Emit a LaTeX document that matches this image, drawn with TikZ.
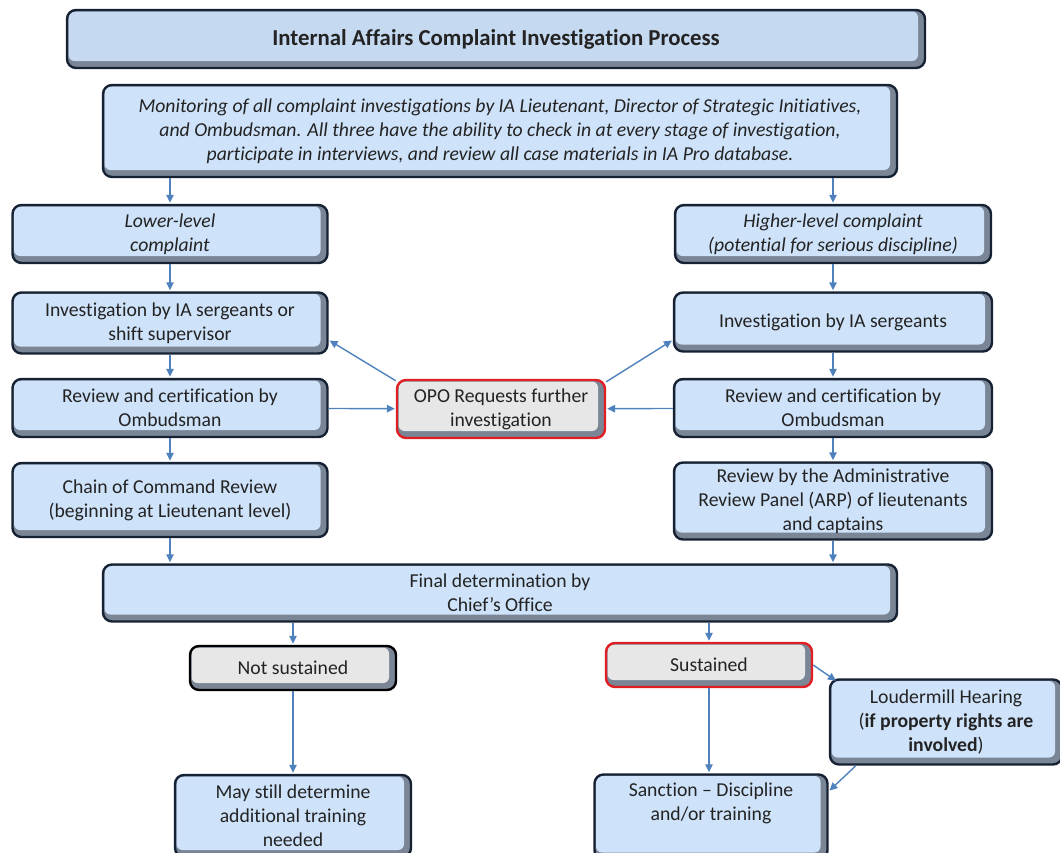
\documentclass[tikz,border=0pt]{standalone}
\usepackage{fontspec}
\setmainfont{Carlito}[Ligatures={NoCommon}]
\usetikzlibrary{arrows.meta,positioning}

\definecolor{boxblue}{RGB}{206,226,249}
\definecolor{titleblue}{RGB}{197,217,241}
\definecolor{boxgrey}{RGB}{231,231,231}
\definecolor{bevelgrey}{RGB}{122,134,150}
\definecolor{navy}{RGB}{22,34,52}
\definecolor{alertred}{RGB}{225,30,35}
\definecolor{linkblue}{RGB}{79,129,189}
\definecolor{textgrey}{RGB}{35,35,35}

\newcommand{\boxfont}{\fontsize{19.7}{24}\selectfont}

\tikzset{
  bevelbox/.style={draw=navy, line width=2.4pt, rounded corners=9pt, fill=bevelgrey,
    text=textgrey, align=center, inner sep=1pt, font=\boxfont,
    path picture={\fill[#1, rounded corners=6pt]
      ([shift={(1.5pt,-1.5pt)}]path picture bounding box.north west) rectangle
      ([shift={(-7pt,7pt)}]path picture bounding box.south east);}},
  bluebox/.style={bevelbox=boxblue},
  greybox/.style={bevelbox=boxgrey},
  redbox/.style={greybox, draw=alertred},
  link/.style={->, draw=linkblue, line width=1.4pt, shorten >=1pt},
}

\begin{document}
\begin{tikzpicture}[x=1pt,y=-1pt,>={Triangle[length=8pt,width=7.5pt]},semithick]
\useasboundingbox (0,0) rectangle (1060,852);

\node[bevelbox=titleblue, minimum width=858pt, minimum height=58pt, font=\fontsize{22.8}{27}\selectfont\bfseries] (title) at (496,39) {Internal Affairs Complaint Investigation Process};
\node[bluebox, minimum width=794pt, minimum height=92pt, font=\boxfont\itshape] (mon) at (500,131) {Monitoring of all complaint investigations by IA Lieutenant, Director of Strategic Initiatives,\\and Ombudsman. All three have the ability to check in at every stage of investigation,\\participate in interviews, and review all case materials in IA Pro database.};

% two tracks
\node[bluebox, minimum width=315pt, minimum height=58pt, font=\boxfont\itshape] (low) at (170,234) {Lower-level\\complaint};
\node[bluebox, minimum width=316pt, minimum height=58pt, font=\boxfont\itshape] (high) at (833,234) {Higher-level complaint\\(potential for serious discipline)};
\node[bluebox, minimum width=315pt, minimum height=61pt] (inv) at (170,323) {Investigation by IA sergeants or\\shift supervisor};
\node[bluebox, minimum width=318pt, minimum height=59pt] (invr) at (833,322) {Investigation by IA sergeants};
\node[bluebox, minimum width=315pt, minimum height=58pt] (rev) at (170,408) {Review and certification by\\Ombudsman};
\node[redbox, minimum width=208pt, minimum height=58pt] (opo) at (501,409) {OPO Requests further\\investigation};
\node[bluebox, minimum width=318pt, minimum height=58pt] (revr) at (833,408) {Review and certification by\\Ombudsman};
\node[bluebox, minimum width=315pt, minimum height=74pt] (chain) at (170,500) {Chain of Command Review\\(beginning at Lieutenant level)};
\node[bluebox, minimum width=318pt, minimum height=77pt] (arp) at (833,501) {Review by the Administrative\\Review Panel (ARP) of lieutenants\\and captains};

% outcome
\node[bluebox, minimum width=794pt, minimum height=57pt] (final) at (500,593) {Final determination by\\Chief’s Office};
\node[greybox, draw=black, minimum width=206pt, minimum height=44pt] (notsus) at (293,668) {Not sustained};
\node[redbox, minimum width=206pt, minimum height=44pt] (sus) at (709,665) {Sustained};
\node[bluebox, minimum width=232pt, minimum height=85pt] (loud) at (946,722) {Loudermill Hearing\\(\textbf{if property rights are}\\\textbf{involved})};
\node[bluebox, minimum width=236pt, minimum height=82pt] (maybe) at (293,816) {May still determine\\additional training\\needed};
\node[bluebox, minimum width=233pt, minimum height=85pt, text depth=31pt] (sanction) at (711,817) {Sanction – Discipline\\and/or training};

\path (mon.south -| low) edge[link] (low)
      (mon.south -| high) edge[link] (high)
      (low) edge[link] (inv)
      (inv) edge[link] (rev)
      (rev) edge[link] (chain)
      (chain) edge[link] (chain |- final.north)
      (high) edge[link] (invr)
      (invr) edge[link] (revr)
      (revr) edge[link] (arp)
      (arp) edge[link] (arp |- final.north)
      (rev) edge[link] (opo)
      (revr) edge[link] (opo)
      ([yshift=-2pt]opo.north west) edge[link] ([yshift=-17pt]inv.east)
      ([yshift=-3pt]opo.north east) edge[link] ([yshift=-18pt]invr.west)
      (final.south -| notsus) edge[link] (notsus)
      (final.south -| sus) edge[link] (sus)
      (notsus) edge[link] (maybe)
      (sus) edge[link] (sus |- sanction.north)
      (sus.east) edge[link] ([xshift=8pt,yshift=-3pt]loud.north west)
      ([xshift=27pt]loud.south west) edge[link] ([yshift=-18pt]sanction.north east);

\end{tikzpicture}
\end{document}
